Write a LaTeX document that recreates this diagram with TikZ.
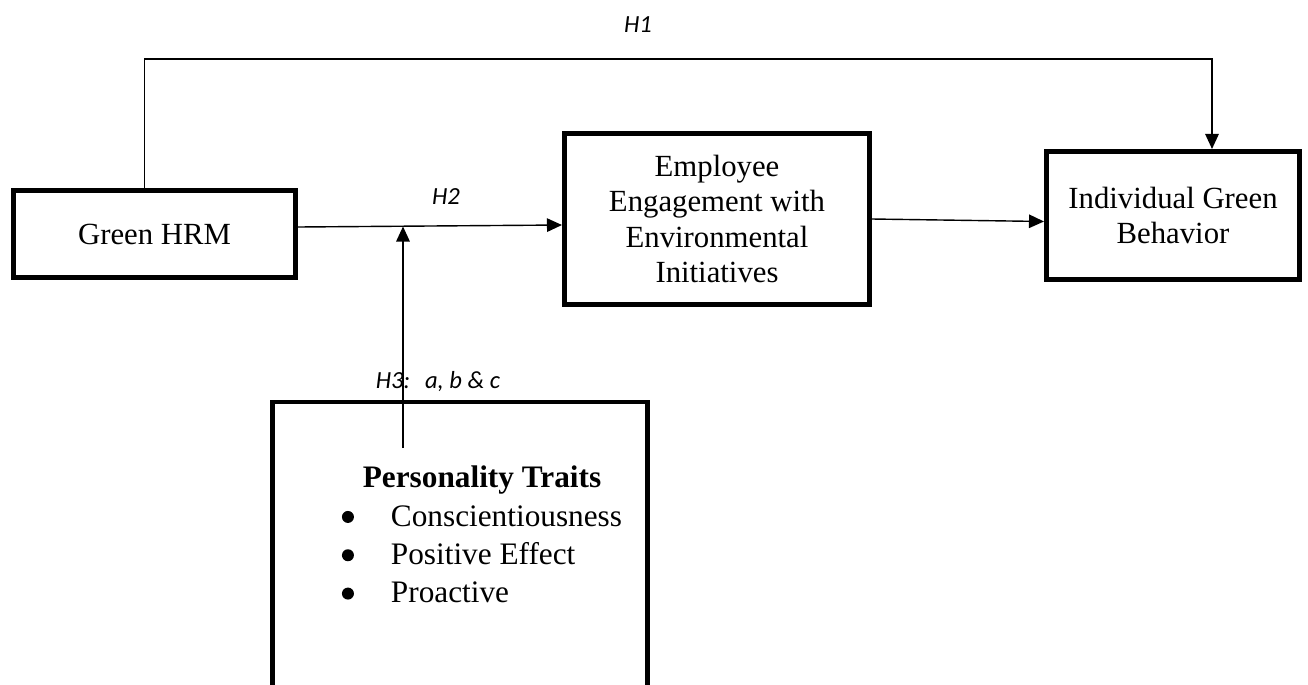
\documentclass[tikz,border=0pt]{standalone}
\usepackage{fontspec}
\setmainfont{Liberation Serif}
\newfontfamily\hypfont{Carlito}
\usetikzlibrary{arrows.meta}

\newcommand{\dotitem}{\tikz[baseline]\fill (0,0.29em) circle (0.12cm);}

\begin{document}
\begin{tikzpicture}[>={Triangle[length=3mm, width=2.7mm]},
  every node/.style={align=center, font=\fontsize{17.5}{20}\selectfont},
  box/.style={draw, line width=2.6pt, inner sep=0pt},
  hyp/.style={font=\hypfont\itshape\fontsize{14}{16}\selectfont},
  link/.style={line width=0.8pt}]
  \path[use as bounding box, clip] (0,0) rectangle (26.16,-13.68);
  % main row: antecedent, mediator, outcome
  \node[box, minimum width=5.65cm, minimum height=1.75cm] (G) at (3.09,-4.68)  {Green HRM};
  \node[box, minimum width=6.11cm, minimum height=3.43cm] (E) at (14.34,-4.38) {Employee\\Engagement with\\Environmental\\Initiatives};
  \node[box, minimum width=5.07cm, minimum height=2.57cm] (B) at (23.46,-4.31) {Individual Green\\Behavior};
  % moderator box runs past the bottom edge
  \node[box, minimum width=7.51cm, minimum height=7.2cm]  (P) at (9.2,-11.64)  {};
  \node (T) at (9.64,-10.75) {\fontsize{17.8}{21.8}\selectfont
    \begin{tabular}{@{}l@{\hspace{0.74cm}}l@{}}
      \multicolumn{2}{c}{\bfseries Personality Traits}\\
      \dotitem & Conscientiousness\\
      \dotitem & Positive Effect\\
      \dotitem & Proactive
    \end{tabular}};
  % hypothesis labels
  \node[hyp] (h1) at (12.76,-0.5)  {H1};
  \node[hyp] (h2) at (8.92,-3.94)  {H2};
  \node[hyp] (h3) at (8.76,-7.64)  {H3:\hspace{0.6em}a, b \& c};
  \coordinate (m)  at (8.06,-4.53);
  \coordinate (p0) at (8.06,-8.96);
  \draw[link, ->] ([xshift=-0.2cm]G.north) -- ++(0,2.58) -| ([xshift=0.78cm]B.north);
  \draw[link, ->] ([yshift=0.14cm]G.east) -- ([yshift=-0.12cm]E.west);
  \draw[link, ->] (E.east) -- ([yshift=-0.12cm]B.west);
  \draw[link, ->] (p0) -- (m);
\end{tikzpicture}
\end{document}
